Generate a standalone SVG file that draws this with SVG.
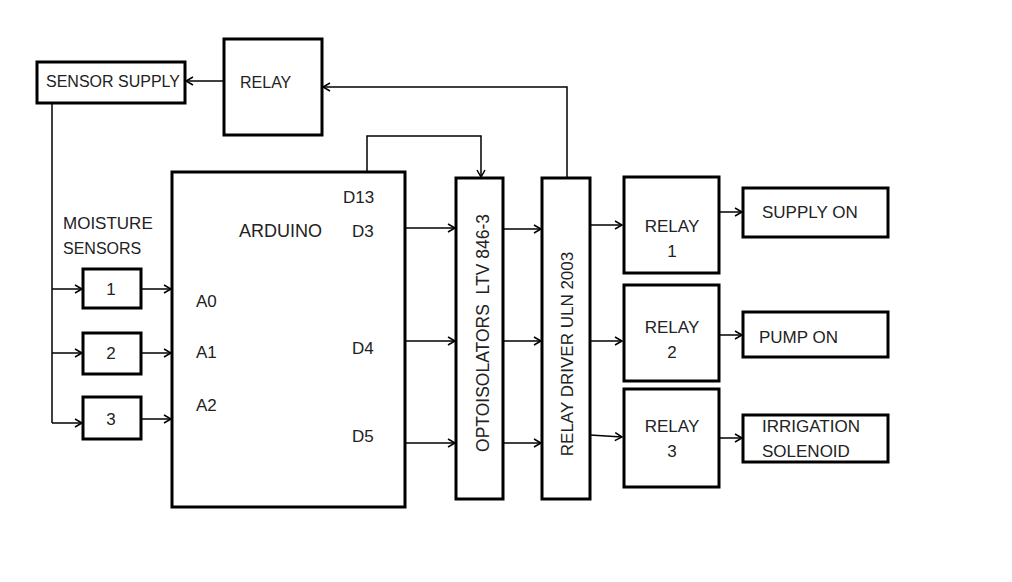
<svg xmlns="http://www.w3.org/2000/svg" width="1012" height="582" viewBox="0 0 1012 582">
<style>
.box{fill:#fff;stroke:#000;stroke-width:3}
.ln{fill:none;stroke:#000;stroke-width:1.5}
.ar{marker-end:url(#arr)}
text{font-family:"Liberation Sans",Arial,sans-serif;font-size:17px;fill:#222}
.c{text-anchor:middle}
</style>
<defs>
<marker id="arr" markerUnits="userSpaceOnUse" markerWidth="10" markerHeight="10" refX="8" refY="5" orient="auto">
<path d="M1,1 L8,5 L1,9" fill="none" stroke="#000" stroke-width="1.5"/>
</marker>
</defs>
<rect width="1012" height="582" fill="#fff"/>
<g id="connectors">
<path class="ln ar" d="M224,81 H186"/>
<path class="ln ar" d="M567,178 V87 H323"/>
<path class="ln" d="M52,103 V423"/>
<path class="ln ar" d="M52,289 H82"/>
<path class="ln ar" d="M52,353 H82"/>
<path class="ln ar" d="M52,423 H82"/>
<path class="ln ar" d="M141,289 H171"/>
<path class="ln ar" d="M141,353 H171"/>
<path class="ln ar" d="M141,419 H171"/>
<path class="ln ar" d="M367,172 V136 H481 V177"/>
<path class="ln ar" d="M405,228 H455"/>
<path class="ln ar" d="M405,341 H455"/>
<path class="ln ar" d="M405,443 H455"/>
<path class="ln ar" d="M503,229 H541"/>
<path class="ln ar" d="M503,341 H541"/>
<path class="ln ar" d="M503,443 H541"/>
<path class="ln ar" d="M590,225 H622"/>
<path class="ln ar" d="M590,341 H622"/>
<path class="ln ar" d="M590,435 L622,437"/>
<path class="ln ar" d="M719,212 H742"/>
<path class="ln ar" d="M719,335 H742"/>
<path class="ln ar" d="M719,438 H742"/>
</g>
<g id="sensor-supply"><rect class="box" x="37" y="62" width="148" height="41"/><text x="46" y="87" style="font-size:16px">SENSOR SUPPLY</text></g>
<g id="relay-top"><rect class="box" x="224" y="39" width="98" height="96"/><text x="240" y="88" style="font-size:16px">RELAY</text></g>
<g id="moisture-label"><text x="63" y="229">MOISTURE</text><text x="63" y="254" style="font-size:16px">SENSORS</text></g>
<g id="sensor1"><rect class="box" x="83" y="269" width="58" height="39"/><text class="c" x="111" y="295">1</text></g>
<g id="sensor2"><rect class="box" x="83" y="333" width="58" height="41"/><text class="c" x="111" y="359">2</text></g>
<g id="sensor3"><rect class="box" x="83" y="397" width="58" height="42"/><text class="c" x="111" y="425">3</text></g>
<g id="arduino"><rect class="box" x="172" y="172" width="233" height="335"/>
<text x="343" y="203">D13</text>
<text x="239" y="237" style="font-size:18px">ARDUINO</text>
<text x="352" y="237">D3</text>
<text x="196" y="307">A0</text>
<text x="196" y="358">A1</text>
<text x="196" y="411">A2</text>
<text x="352" y="354">D4</text>
<text x="352" y="442">D5</text>
</g>
<g id="opto"><rect class="box" x="456" y="178" width="47" height="321"/><text class="c" transform="translate(489,333) rotate(-90)" style="white-space:pre;font-size:17.5px">OPTOISOLATORS  LTV 846-3</text></g>
<g id="driver"><rect class="box" x="542" y="178" width="48" height="321"/><text class="c" transform="translate(573,354) rotate(-90)" style="font-size:17px">RELAY DRIVER ULN 2003</text></g>
<g id="relay1"><rect class="box" x="624" y="177" width="95" height="96"/><text class="c" x="672" y="232">RELAY</text><text class="c" x="672" y="257">1</text></g>
<g id="relay2"><rect class="box" x="624" y="285" width="95" height="96"/><text class="c" x="672" y="333">RELAY</text><text class="c" x="672" y="358">2</text></g>
<g id="relay3"><rect class="box" x="624" y="389" width="95" height="98"/><text class="c" x="672" y="432">RELAY</text><text class="c" x="672" y="457">3</text></g>
<g id="supply-on"><rect class="box" x="743" y="188" width="145" height="49"/><text x="762" y="218">SUPPLY ON</text></g>
<g id="pump-on"><rect class="box" x="743" y="312" width="145" height="45"/><text x="759" y="343">PUMP ON</text></g>
<g id="irrigation"><rect class="box" x="743" y="415" width="145" height="47"/><text x="762" y="432">IRRIGATION</text><text x="762" y="457">SOLENOID</text></g>
</svg>
